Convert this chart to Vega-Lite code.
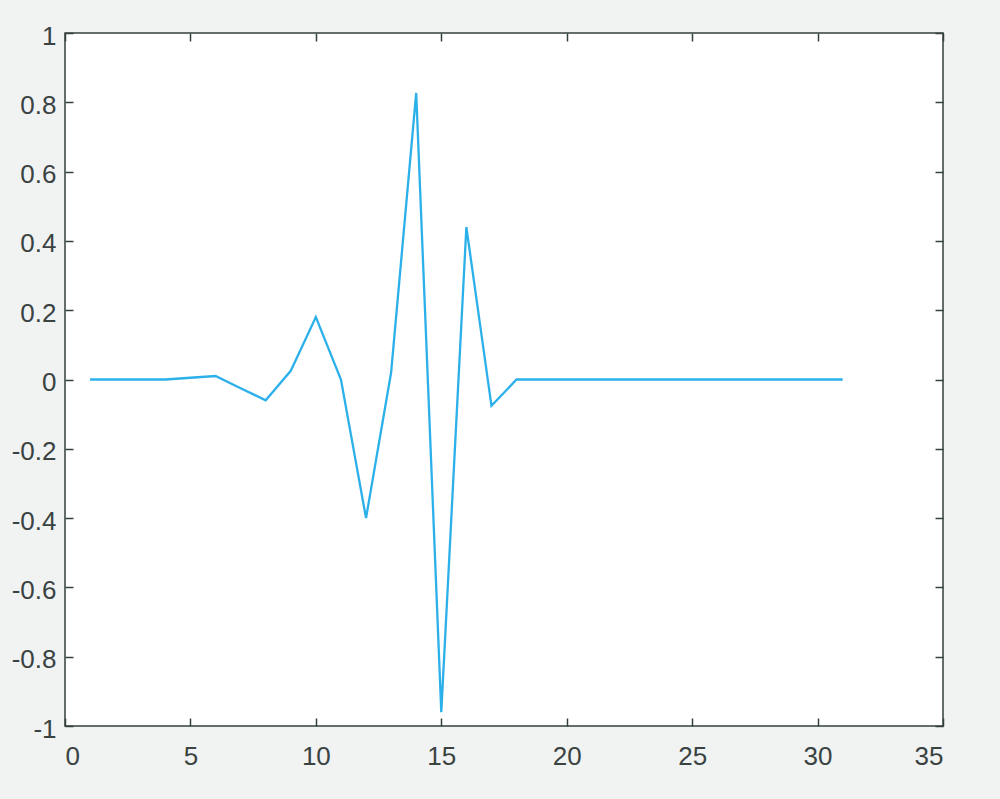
{
  "$schema": "https://vega.github.io/schema/vega-lite/v6.json",
  "width": 878,
  "height": 693,
  "autosize": {"type": "none"},
  "padding": {"left": 65, "top": 33, "right": 57, "bottom": 73},
  "background": "#f0f3f2",
  "config": {
    "view": {"fill": "white", "stroke": "#34403e", "strokeWidth": 1.5},
    "locale": {"number": {"decimal": ".", "thousands": ",", "grouping": [3], "currency": ["$", ""], "minus": "-"}},
    "axis": {
      "labelFont": "Liberation Sans",
      "labelFontSize": 26,
      "labelColor": "#3a4242",
      "tickColor": "#34403e",
      "tickSize": 8,
      "offset": -8,
      "tickWidth": 1.5,
      "domain": false,
      "grid": false,
      "title": null
    }
  },
  "data": {"values": [
    {"x": 1, "y": 0}, {"x": 2, "y": 0}, {"x": 3, "y": 0}, {"x": 4, "y": 0},
    {"x": 5, "y": 0.005}, {"x": 6, "y": 0.01}, {"x": 7, "y": -0.025}, {"x": 8, "y": -0.06},
    {"x": 9, "y": 0.025}, {"x": 10, "y": 0.18}, {"x": 11, "y": 0.0}, {"x": 12, "y": -0.4},
    {"x": 13, "y": 0.02}, {"x": 14, "y": 0.827}, {"x": 15, "y": -0.96}, {"x": 16, "y": 0.44},
    {"x": 17, "y": -0.076}, {"x": 18, "y": 0}, {"x": 19, "y": 0}, {"x": 20, "y": 0},
    {"x": 21, "y": 0}, {"x": 22, "y": 0}, {"x": 23, "y": 0}, {"x": 24, "y": 0},
    {"x": 25, "y": 0}, {"x": 26, "y": 0}, {"x": 27, "y": 0}, {"x": 28, "y": 0},
    {"x": 29, "y": 0}, {"x": 30, "y": 0}, {"x": 31, "y": 0}
  ]},
  "layer": [
    {
      "mark": {"type": "line", "color": "#2cb0ea", "strokeWidth": 2.3},
      "encoding": {
        "x": {"field": "x", "type": "quantitative", "scale": {"domain": [0, 35], "nice": false},
              "axis": {"orient": "bottom", "values": [0, 5, 10, 15, 20, 25, 30, 35], "labelPadding": 17, "format": "d"}},
        "y": {"field": "y", "type": "quantitative", "scale": {"domain": [-1, 1], "nice": false},
              "axis": {"orient": "left", "values": [-1, -0.8, -0.6, -0.4, -0.2, 0, 0.2, 0.4, 0.6, 0.8, 1], "labelPadding": 9, "labelOffset": 3, "format": ".1~f"}}
      }
    },
    {
      "mark": {"type": "line", "opacity": 0},
      "encoding": {
        "x": {"field": "x", "type": "quantitative",
              "axis": {"orient": "top", "values": [0, 5, 10, 15, 20, 25, 30, 35], "labels": false}},
        "y": {"field": "y", "type": "quantitative",
              "axis": {"orient": "right", "values": [-1, -0.8, -0.6, -0.4, -0.2, 0, 0.2, 0.4, 0.6, 0.8, 1], "labels": false}}
      }
    }
  ],
  "resolve": {"axis": {"x": "independent", "y": "independent"}}
}
